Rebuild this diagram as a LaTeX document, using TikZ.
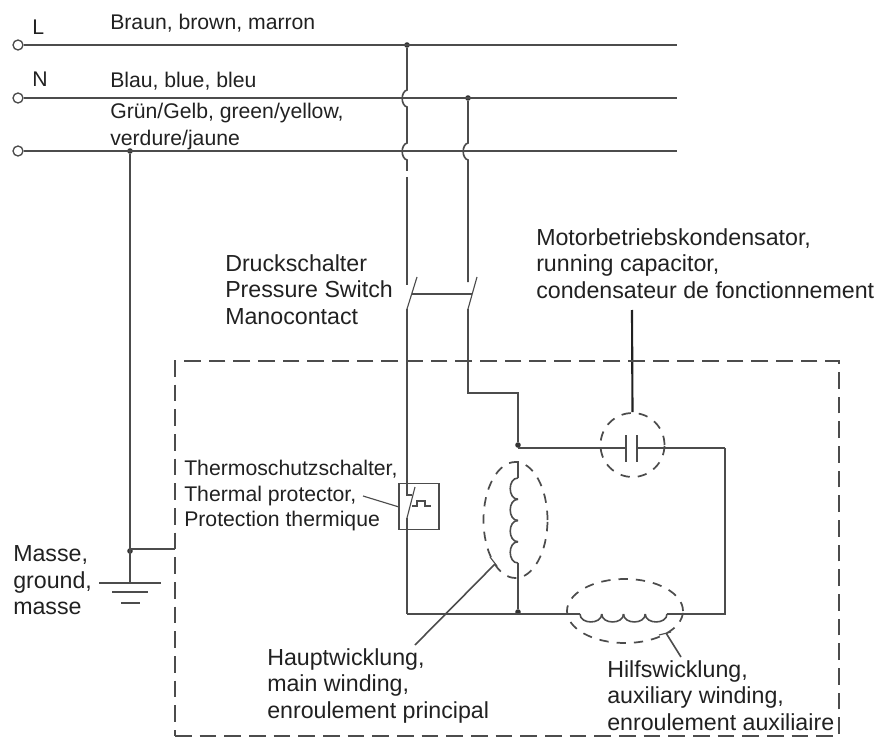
\documentclass[tikz,border=0pt]{standalone}
\usepackage{fontspec}
\setmainfont{Liberation Sans}
\usetikzlibrary{shapes}
\definecolor{wire}{rgb}{0.3,0.3,0.3}
\definecolor{ink}{rgb}{0.13,0.13,0.13}
\tikzset{
  wireline/.style={draw=wire,line width=1.2pt},
  thinline/.style={draw=wire,line width=0.85pt},
  dashline/.style={draw=wire,line width=1.3pt,dash pattern=on 7pt off 6pt},
  boxline/.style={draw=wire,line width=1.4pt,dash pattern=on 12.5pt off 6pt},
  terminal/.style={circle,draw=wire,line width=1pt,fill=white,inner sep=0pt,minimum size=7.5pt},
  junction/.style={circle,fill=black!80,inner sep=0pt,minimum size=4.2pt},
  caption/.style={anchor=north west,inner sep=0pt,align=left,text=ink,font=\fontsize{15.9}{20.1}\selectfont},
  capbig/.style={caption,font=\fontsize{17.4}{20.1}\selectfont},
  captight/.style={caption,font=\fontsize{15.9}{19.1}\selectfont},
}
\begin{document}
\begin{tikzpicture}[x=0.75pt,y=0.75pt,yscale=-1,xscale=1]
\useasboundingbox (0,0) rectangle (876,742);

%Terminals and junctions
\node [terminal] (termL) at (18,45) {};
\node [terminal] (termN) at (18,98) {};
\node [terminal] (termG) at (18,151) {};
\node [junction] (dotL) at (407,45) {};
\node [junction] (dotN) at (468,98) {};
\node [junction] (dotG) at (130,151) {};
\node [junction] (dotEarth) at (130,551) {};
\node [junction] (dotTop) at (518,445) {};
\node [junction] (dotLow) at (518,612) {};
\coordinate (endL) at (677,45);
\coordinate (endN) at (677,98);
\coordinate (endG) at (677,151);

%Supply lines
\draw [wireline] (termL) -- (endL);
\draw [wireline] (termN) -- (endN);
\draw [wireline] (termG) -- (endG);

%Left riser with two hops
\coordinate (hopAa) at (407,90);
\coordinate (hopAb) at (407,107);
\coordinate (hopBa) at (407,143);
\coordinate (hopBb) at (407,160);
\coordinate (gapAa) at (407,171);
\coordinate (gapAb) at (407,177);
\coordinate (swAtop) at (407,285);
\draw [wireline] (dotL) -- (hopAa) to [bend left=75] (hopAb) -- (hopBa) to [bend left=75] (hopBb) -- (gapAa);
\draw [wireline] (gapAb) -- (swAtop);

%Right riser with one hop
\coordinate (hopCa) at (468,143);
\coordinate (hopCb) at (468,160);
\coordinate (swBtop) at (468,282);
\draw [wireline] (dotN) -- (hopCa) to [bend left=75] (hopCb) -- (swBtop);

%Pressure switch
\coordinate (bladeAa) at (417,277);
\coordinate (bladeAb) at (407,309);
\coordinate (bladeBa) at (477,277);
\coordinate (bladeBb) at (468,309);
\coordinate (barA) at (412,294);
\coordinate (barB) at (472,294);
\draw [thinline] (bladeAa) -- (bladeAb);
\draw [thinline] (bladeBa) -- (bladeBb);
\draw [thinline] (barA) -- (barB);

%Thermal protector
\node [draw=wire,line width=0.8pt,minimum width=30pt,minimum height=35pt,inner sep=0pt] (protBox) at (419,506.5) {};
\coordinate (protIn) at (407,495);
\coordinate (protJog) at (412,495);
\coordinate (protOut) at (407,518);
\coordinate (protBa) at (415,487);
\coordinate (cornerA) at (407,614);
\draw [wireline] (bladeAb) -- (protIn) -- (protJog);
\draw [thinline] (protBa) -- (protOut);
\draw [wireline] (protOut) -- (cornerA);
\coordinate (stepA) at (412,506);
\coordinate (stepB) at (417,506);
\coordinate (stepC) at (417,501);
\coordinate (stepD) at (425,501);
\coordinate (stepE) at (425,506);
\coordinate (stepF) at (431,506);
\draw [thinline] (stepA) -- (stepB) -- (stepC) -- (stepD) -- (stepE) -- (stepF);

%Feed to the motor
\coordinate (feedA) at (468,393);
\coordinate (feedB) at (518,393);
\draw [wireline] (bladeBb) -- (feedA) -- (feedB) -- (dotTop);

%Main winding
\coordinate (mainTop) at (518,461);
\foreach \i in {0,...,4} {\coordinate (mw\i) at (518,478+21.25*\i);}
\draw [wireline] (mainTop) -- (mw0);
\foreach \i/\j in {0/1,1/2,2/3,3/4} {\draw [wireline] (mw\i) to [bend left=90,looseness=1.25] (mw\j);}
\draw [wireline] (mw4) -- (dotLow);
\node [ellipse,dashline,minimum width=48pt,minimum height=87pt,inner sep=0pt] (mainRing) at (515.5,520) {};

%Auxiliary winding and bottom wire
\coordinate (cornerB) at (725,614);
\coordinate (cornerC) at (725,448);
\foreach \i in {0,...,4} {\coordinate (aw\i) at (580+21.75*\i,614);}
\draw [wireline] (cornerA) -- (aw0);
\foreach \i/\j in {0/1,1/2,2/3,3/4} {\draw [wireline] (aw\i) to [bend left=90,looseness=1.25] (aw\j);}
\draw [wireline] (aw4) -- (cornerB) -- (cornerC);
\node [ellipse,dashline,minimum width=87pt,minimum height=48pt,inner sep=0pt] (auxRing) at (625,611) {};

%Capacitor
\coordinate (topStart) at (518,448);
\coordinate (plateA) at (626,448);
\coordinate (plateB) at (637,448);
\coordinate (plateAa) at (626,435);
\coordinate (plateAb) at (626,462);
\coordinate (plateBa) at (637,435);
\coordinate (plateBb) at (637,462);
\draw [wireline] (topStart) -- (plateA);
\draw [wireline] (plateB) -- (cornerC);
\draw [wireline] (plateAa) -- (plateAb);
\draw [wireline] (plateBa) -- (plateBb);
\node [ellipse,dashline,minimum width=48pt,minimum height=48pt,inner sep=0pt] (capRing) at (632.5,445) {};
\coordinate (capLead) at (632,310);
\draw [draw=ink,line width=1.6pt] (capLead) -- (capRing.north);

%Dashed housing
\node [rectangle,boxline,minimum width=498pt,minimum height=281.25pt,inner sep=0pt] (housing) at (507,548.5) {};

%Earth
\coordinate (earthTop) at (130,583);
\coordinate (houseTap) at (175,549);
\coordinate (tapBend) at (130,549);
\coordinate (gndAa) at (99,583);
\coordinate (gndAb) at (161,583);
\coordinate (gndBa) at (112,592);
\coordinate (gndBb) at (148,592);
\coordinate (gndCa) at (121,603);
\coordinate (gndCb) at (140,603);
\draw [wireline] (dotG) -- (earthTop);
\draw [wireline] (tapBend) -- (houseTap);
\draw [thinline] (gndAa) -- (gndAb);
\draw [thinline] (gndBa) -- (gndBb);
\draw [thinline] (gndCa) -- (gndCb);

%Leaders
\coordinate (protLead) at (363,496);
\coordinate (protTip) at (399,507);
\draw [thinline] (protLead) -- (protTip);
\coordinate (mainLead) at (415,645);
\coordinate (mainTip) at (495,564);
\coordinate (mainTa) at (490,557);
\coordinate (mainTb) at (497,566);
\draw [wireline] (mainLead) -- (mainTip);
\draw [thinline] (mainTa) -- (mainTb);
\coordinate (auxLead) at (681,657);
\coordinate (auxTip) at (666,633);
\coordinate (auxTa) at (659,635);
\coordinate (auxTb) at (671,632);
\draw [wireline] (auxLead) -- (auxTip);
\draw [thinline] (auxTa) -- (auxTb);

% Text Node
\node [caption] (labL) at (32,20) {L};
\node [caption] (labN) at (32,72) {N};
\node [caption] (labBrown) at (110,14) {Braun, brown, marron};
\node [caption] (labBlue) at (110,72) {Blau, blue, bleu};
\node [caption] (labGreen) at (110,103) {Grün/Gelb, green/yellow,\\verdure/jaune};
\node [capbig] (labSwitch) at (225,254) {Druckschalter\\Pressure Switch\\Manocontact};
\node [capbig] (labCap) at (536,228) {Motorbetriebskondensator,\\running capacitor,\\condensateur de fonctionnement};
\node [captight] (labProt) at (184,460) {Thermoschutzschalter,\\Thermal protector,\\Protection thermique};
\node [capbig] (labEarth) at (13,545) {Masse,\\ground,\\masse};
\node [capbig] (labMain) at (267,648) {Hauptwicklung,\\main winding,\\enroulement principal};
\node [capbig] (labAux) at (607,660) {Hilfswicklung,\\auxiliary winding,\\enroulement auxiliaire};
\end{tikzpicture}
\end{document}
